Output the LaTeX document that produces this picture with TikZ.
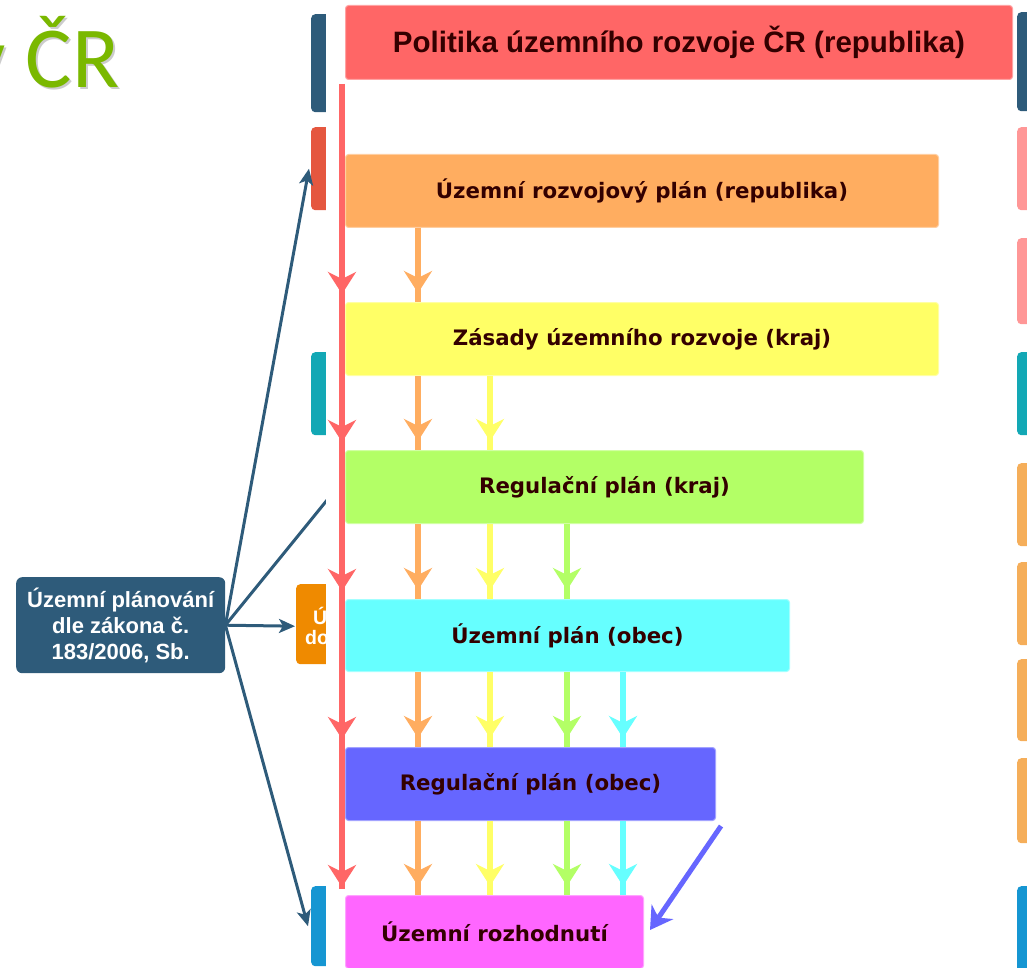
\documentclass[tikz,border=0pt]{standalone}
\usepackage{fontspec}
\setmainfont{Liberation Sans}
\newfontfamily\titlefont{Carlito}
\newfontfamily\boxfont{DejaVu Sans}
\usetikzlibrary{arrows.meta,calc}
\definecolor{cRed}{HTML}{FF6666}
\definecolor{cOrange}{HTML}{FFAD60}
\definecolor{cYellow}{HTML}{FFFF66}
\definecolor{cGreen}{HTML}{B3FF66}
\definecolor{cCyan}{HTML}{66FFFF}
\definecolor{cPurple}{HTML}{6666FF}
\definecolor{cMagenta}{HTML}{FF66FF}
\definecolor{cNavy}{HTML}{2E5B7A}
\definecolor{cTxt}{HTML}{330000}
\definecolor{cTitle}{HTML}{7AB800}
\definecolor{bRed}{HTML}{E5573F}
\definecolor{bTeal}{HTML}{13A8B5}
\definecolor{bOrange}{HTML}{EF8A00}
\definecolor{bBlue}{HTML}{1696D2}
\definecolor{bPink}{HTML}{FF9797}
\definecolor{bLOrange}{HTML}{F5AE5A}
\tikzset{
  lvl/.style={fill=#1, draw=#1!60!white, line width=1pt, rounded corners=3pt, anchor=north west,
    minimum height=73pt, inner sep=0pt, text=cTxt, font=\boxfont\fontsize{21.3}{25}\selectfont\bfseries},
  bar/.style={fill=#1, rounded corners=4pt, draw=none, anchor=north west, inner sep=0pt},
  shaft/.style={draw=#1, line width=6.5pt},
  headarrow/.style={draw=#1, line width=6.5pt, -{Stealth[length=22pt,width=28pt,inset=7pt]}},
  navyarrow/.style={draw=cNavy, line width=3pt, -{Stealth[length=16pt,width=14pt,inset=4pt]}},
  sidetxt/.style={anchor=base west, text=white, font=\fontsize{19.5}{22}\selectfont\bfseries, inner sep=0pt},
}
\newcommand{\colarrow}[4]{%
  \draw[shaft=#1] (#2.south -| #4) -- (#3.north -| #4);
  \draw[headarrow=#1] (#2.south -| #4) -- ($(#3.north -| #4)+(0,-9)$);}
\begin{document}
\begin{tikzpicture}[x=1pt,y=-1pt]
\useasboundingbox (0,0) rectangle (1027,968);
\clip (0,0) rectangle (1027,968);
% title
\node[anchor=base east, text=black!20, font=\titlefont\fontsize{87}{90}\selectfont] (titleshadow) at (125,90) {v ČR};
\node[anchor=base east, text=cTitle, font=\titlefont\fontsize{87}{90}\selectfont] (title) at (123,88) {v ČR};
% left background bars
\node[bar=cNavy, minimum width=30pt, minimum height=98pt] (lnavy) at (311,14) {};
\node[bar=bRed, minimum width=30pt, minimum height=83pt] (lred) at (311,127) {};
\node[bar=bTeal, minimum width=30pt, minimum height=83pt] (lteal) at (311,352) {};
\node[bar=bOrange, minimum width=45pt, minimum height=80pt] (lorange) at (296,584) {};
\node[sidetxt] (lortxt1) at (313,624) {Ú};
\node[sidetxt] (lortxt2) at (305,644) {do};
\node[bar=bBlue, minimum width=30pt, minimum height=80pt] (lblue) at (311,886) {};
% right background bars
\node[bar=cNavy, minimum width=30pt, minimum height=99pt] (r1) at (1017,12) {};
\node[bar=bPink, minimum width=30pt, minimum height=83pt] (r2) at (1017,127) {};
\node[bar=bPink, minimum width=30pt, minimum height=86pt] (r3) at (1017,238) {};
\node[bar=bTeal, minimum width=30pt, minimum height=83pt] (r4) at (1017,352) {};
\node[bar=bLOrange, minimum width=30pt, minimum height=83pt] (r5) at (1017,463) {};
\node[bar=bLOrange, minimum width=30pt, minimum height=83pt] (r6) at (1017,562) {};
\node[bar=bLOrange, minimum width=30pt, minimum height=82pt] (r7) at (1017,659) {};
\node[bar=bLOrange, minimum width=30pt, minimum height=85pt] (r8) at (1017,758) {};
\node[bar=bBlue, minimum width=30pt, minimum height=90pt] (r9) at (1017,886) {};
% left source box
\node[fill=cNavy, rounded corners=6pt, anchor=north west, minimum width=209pt, minimum height=96pt,
  inner sep=0pt, text=white, align=center, font=\fontsize{22}{26}\selectfont\bfseries] (ub) at (16,577)
  {Územní plánování\\dle zákona č.\\183/2006, Sb.};
\coordinate (hid) at (345,478);
\draw[navyarrow] (ub.east) -- ($(lred.west)+(-2,0)$);
\draw[draw=cNavy, line width=3pt] (ub.east) -- (hid);
\draw[navyarrow] (ub.east) -- ($(lorange.west)+(-1,2)$);
\draw[navyarrow] (ub.east) -- ($(lblue.west)+(-3,0)$);
% white panel
\fill[white] (326,0) rectangle (1015,968);
% level boxes
\node[lvl=cRed, minimum width=667pt, minimum height=74pt, font=\fontsize{29.5}{33}\selectfont\bfseries] (tb) at (345,5) {Politika územního rozvoje ČR (republika)};
\node[lvl=cOrange, minimum width=593pt] (ob) at (345,154) {Územní rozvojový plán (republika)};
\node[lvl=cYellow, minimum width=593pt] (yb) at (345,302) {Zásady územního rozvoje (kraj)};
\node[lvl=cGreen, minimum width=518pt] (gb) at (345,450) {Regulační plán (kraj)};
\node[lvl=cCyan, minimum width=444pt, minimum height=72pt] (cb) at (345,599) {Územní plán (obec)};
\node[lvl=cPurple, minimum width=370pt] (pb) at (345,747) {Regulační plán (obec)};
\node[lvl=cMagenta, minimum width=298pt, minimum height=73pt] (mb) at (345,895) {Územní rozhodnutí};
% column coordinates
\coordinate (cR) at (342,0);
\coordinate (cO) at (418,0);
\coordinate (cY) at (490,0);
\coordinate (cG) at (567,0);
\coordinate (cC) at (623,0);
% red column
\draw[shaft=cRed] ($(tb.south -| cR)+(0,4)$) -- ($(mb.north -| cR)+(0,-6)$);
\foreach \b in {yb,gb,cb,pb,mb}{
  \draw[headarrow=cRed] ($(\b.north -| cR)+(0,-40)$) -- ($(\b.north -| cR)+(0,-8)$);
}
% orange column
\colarrow{cOrange}{ob}{yb}{cO}
\colarrow{cOrange}{yb}{gb}{cO}
\colarrow{cOrange}{gb}{cb}{cO}
\colarrow{cOrange}{cb}{pb}{cO}
\colarrow{cOrange}{pb}{mb}{cO}
% yellow column
\colarrow{cYellow}{yb}{gb}{cY}
\colarrow{cYellow}{gb}{cb}{cY}
\colarrow{cYellow}{cb}{pb}{cY}
\colarrow{cYellow}{pb}{mb}{cY}
% green column
\colarrow{cGreen}{gb}{cb}{cG}
\colarrow{cGreen}{cb}{pb}{cG}
\colarrow{cGreen}{pb}{mb}{cG}
% cyan column
\colarrow{cCyan}{cb}{pb}{cC}
\colarrow{cCyan}{pb}{mb}{cC}
% purple diagonal
\draw[draw=cPurple, line width=5pt, -{Stealth[length=22pt,width=26pt,inset=7pt]}]
  ($(pb.south east)+(5,5)$) -- ($(mb.east)+(6,-2)$);
\end{tikzpicture}
\end{document}
